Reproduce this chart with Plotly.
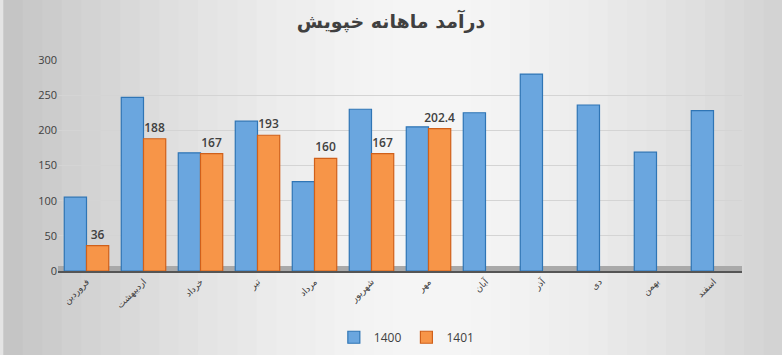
import plotly.graph_objects as go

months = ["فروردین", "اردیبهشت", "خرداد", "تیر", "مرداد", "شهریور",
          "مهر", "آبان", "آذر", "دی", "بهمن", "اسفند"]
values_1400 = [105, 247, 168, 213, 127, 230, 205, 225, 280, 236, 169, 228]
values_1401 = [36, 188, 167, 193, 160, 167, 202.4, None, None, None, None, None]
labels_1401 = ["36", "188", "167", "193", "160", "167", "202.4", "", "", "", "", ""]
y_ticks = [0, 50, 100, 150, 200, 250, 300]

fig = go.Figure()
fig.add_trace(go.Bar(
    x=months, y=values_1400, name="1400",
    marker=dict(color="#6aa6df", line=dict(color="#2f75b5", width=1.2)),
))
fig.add_trace(go.Bar(
    x=months, y=values_1401, name="1401",
    text=labels_1401, textposition="outside", cliponaxis=False,
    constraintext="none",
    textfont=dict(family="Open Sans, Arial", size=12, color="#404040", weight=600),
    marker=dict(color="#f79548", line=dict(color="#d0601a", width=1.2)),
))

# background gradient stripes (decoration)
n = 40
for i in range(n):
    t = abs((i + 0.5) / n - 0.55) / 0.55
    g = int(246 - 50 * t ** 1.6)
    fig.add_shape(type="rect", xref="paper", yref="paper", layer="below",
                  x0=-0.08 + i * 1.14 / n, x1=-0.08 + (i + 1) * 1.14 / n + 0.002,
                  y0=-0.5, y1=1.3, line=dict(width=0),
                  fillcolor=f"rgb({g},{g},{g})")
# floor
fig.add_shape(type="rect", xref="paper", yref="y", layer="below",
              x0=0, x1=1.0, y0=0, y1=7, line=dict(width=0), fillcolor="#a9a9a9")

fig.update_layout(
    width=782, height=355,
    margin=dict(l=58, r=40, t=60, b=84),
    paper_bgcolor="#e4e4e4", plot_bgcolor="rgba(0,0,0,0)",
    title=dict(text="<b>درآمد ماهانه خپویش</b>", x=0.5, xanchor="center",
               y=0.94, yref="container", yanchor="middle",
               font=dict(family="DejaVu Sans, Arial", size=19, color="#404040")),
    barmode="group", bargap=0.22, bargroupgap=0.0,
    showlegend=True,
    legend=dict(orientation="h", x=0.51, xanchor="center", yref="container",
                y=0.05, yanchor="middle", itemwidth=30,
                font=dict(family="Open Sans, Arial", size=12, color="#404040"),
                bgcolor="rgba(0,0,0,0)"),
    font=dict(family="DejaVu Sans, Arial", color="#595959"),
)
fig.update_xaxes(tickangle=-45, tickfont=dict(size=9, color="#404040"),
                 showline=True, linecolor="#555555", linewidth=2, showgrid=False,
                 ticks="", automargin=False)
fig.update_yaxes(range=[0, 300], tickvals=y_ticks, showgrid=True, gridcolor="#d4d4d4",
                 gridwidth=1, zeroline=False, showline=False, automargin=False,
                 tickfont=dict(family="Open Sans, Arial", size=11, color="#404040"))

fig.write_html("out.html", config={"displayModeBar": False},
               post_script="document.body.style.margin='0';document.body.style.overflow='hidden';")
